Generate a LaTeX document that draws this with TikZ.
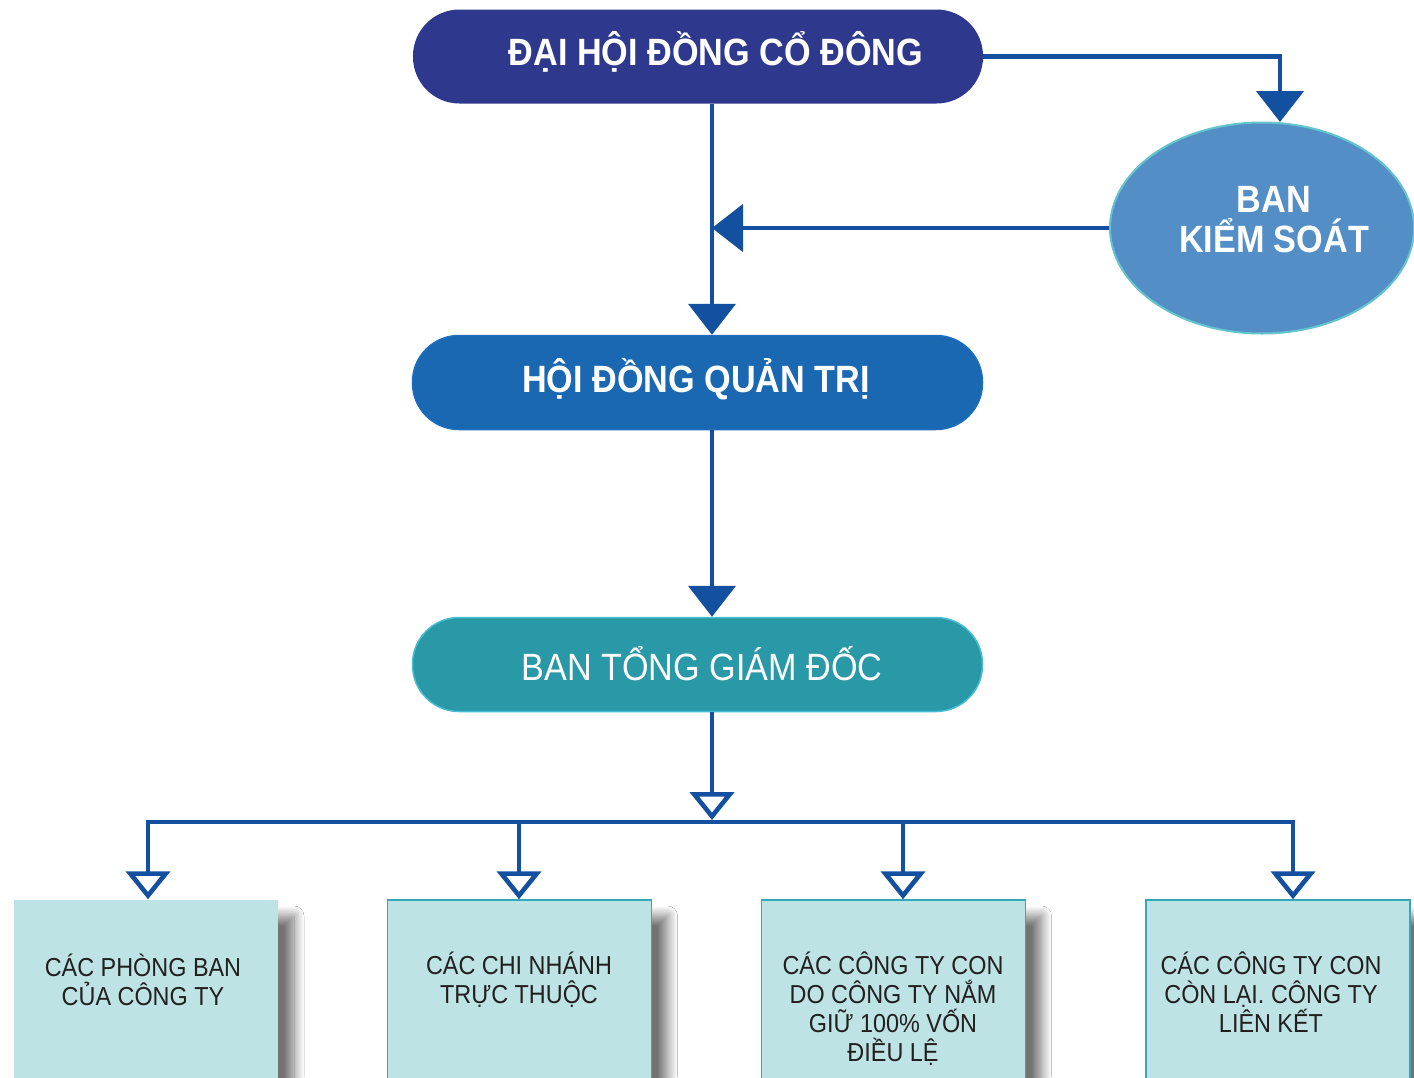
\documentclass[tikz,border=0pt]{standalone}
\usepackage{fontspec}
\setmainfont{Liberation Sans}
\newfontfamily\narrowfont[FakeStretch=0.9]{Liberation Sans}
\usetikzlibrary{arrows.meta,shapes.geometric,shadows.blur}
\definecolor{dhcdc}{RGB}{46,57,141}
\definecolor{hdqtc}{RGB}{26,103,178}
\definecolor{hdqtedge}{RGB}{30,110,190}
\definecolor{btgdc}{RGB}{41,153,167}
\definecolor{btgdedge}{RGB}{70,190,210}
\definecolor{ellc}{RGB}{84,142,198}
\definecolor{elledge}{RGB}{100,196,206}
\definecolor{linec}{RGB}{19,80,160}
\definecolor{boxc}{RGB}{189,227,229}
\definecolor{boxedge}{RGB}{50,168,185}
\definecolor{boxtextc}{RGB}{35,31,32}
\tikzset{
  Fhead/.tip={Triangle[width=47pt,length=31pt]},
  Ohead/.tip={Triangle[open,width=44pt,length=28pt,fill=white]},
  conn/.style={draw=linec, line width=4.6pt, line join=miter, color=linec},
  pill/.style={rectangle, rounded corners=46.5pt, minimum width=570pt, minimum height=94pt, inner sep=0pt},
  pilltext/.style={anchor=base, text=white, inner sep=0pt, font=\narrowfont\fontsize{38}{40}\selectfont},
  boldtext/.style={font=\narrowfont\bfseries\fontsize{38}{40}\selectfont},
  cbox/.style={rectangle, fill=boxc, draw=boxedge, line width=1.5pt, minimum width=264pt, minimum height=200pt, inner sep=0pt,
    blur shadow={shadow xshift=16pt, shadow yshift=-16pt, shadow blur radius=10pt, shadow blur steps=14, shadow opacity=55}},
  cboxtext/.style={anchor=base, text=boxtextc, inner sep=0pt, align=center, font=\narrowfont\fontsize{26}{29}\selectfont},
}
\begin{document}
\begin{tikzpicture}[x=1pt,y=-1pt]
\useasboundingbox (0,0) rectangle (1414,1077);
\fill[white] (0,0) rectangle (1414,1077);

% top-level nodes
\node[pill, fill=dhcdc] (dhcd) at (698,56.5) {};
\node[pilltext, boldtext] (dhcdtxt) at (716,65) {ĐẠI HỘI ĐỒNG CỔ ĐÔNG};

\node[ellipse, fill=ellc, draw=elledge, line width=2pt, minimum width=304pt, minimum height=211pt, inner sep=0pt] (bks) at (1262,228) {};
\node[pilltext, boldtext] (bkstxt) at (1274,212) {BAN};
\node[pilltext, boldtext] (bkstxt2) at (1274,252) {KIỂM SOÁT};

\node[pill, fill=hdqtc, draw=hdqtedge, line width=1.5pt] (hdqt) at (697.5,382.5) {};
\node[pilltext, boldtext] (hdqttxt) at (696,392) {HỘI ĐỒNG QUẢN TRỊ};

\node[pill, fill=btgdc, draw=btgdedge, line width=1.5pt] (btgd) at (697.5,664.5) {};
\node[pilltext] (btgdtxt) at (702,680) {BAN TỔNG GIÁM ĐỐC};

% bottom boxes
\node[cbox, draw=none] (b1) at (146,1000) {};
\node[cbox] (b2) at (519.5,1000) {};
\node[cbox] (b3) at (893.5,1000) {};
\node[cbox] (b4) at (1278,1000) {};

% text nodes (base = last line)
\node[cboxtext] (t1) at (143,1005) {CÁC PHÒNG BAN\\CỦA CÔNG TY};
\node[cboxtext] (t2) at (519,1003) {CÁC CHI NHÁNH\\TRỰC THUỘC};
\node[cboxtext] (t3) at (893,1061) {CÁC CÔNG TY CON\\DO CÔNG TY NẮM\\GIỮ 100\% VỐN\\ĐIỀU LỆ};
\node[cboxtext] (t4) at (1271,1032) {CÁC CÔNG TY CON\\CÒN LẠI. CÔNG TY\\LIÊN KẾT};

% helper coordinates
\coordinate (spine) at (712,0);
\coordinate (bkstop) at (1280,122);
\coordinate (bus) at (712,820);
\coordinate (d1) at (148,822);
\coordinate (d2) at (519,822);
\coordinate (d3) at (903,822);
\coordinate (d4) at (1293,822);

% connectors
\draw[conn,-Fhead] (dhcd.east) -- (dhcd.east -| bkstop) -- (bkstop);
\draw[conn,-Fhead] (dhcd.south -| spine) -- (hdqt.north -| spine);
\draw[conn,-Fhead] (bks.west) -- (bks.west -| spine);
\draw[conn,-Fhead] (hdqt.south -| spine) -- (btgd.north -| spine);
\draw[conn,-Ohead] (btgd.south -| spine) -- (bus);
\draw[conn,Ohead-Ohead] (d1 |- b1.north) -- (d1) -- (d4) -- (d4 |- b4.north);
\draw[conn,-Ohead] (d2) -- (d2 |- b2.north);
\draw[conn,-Ohead] (d3) -- (d3 |- b3.north);
\end{tikzpicture}
\end{document}
